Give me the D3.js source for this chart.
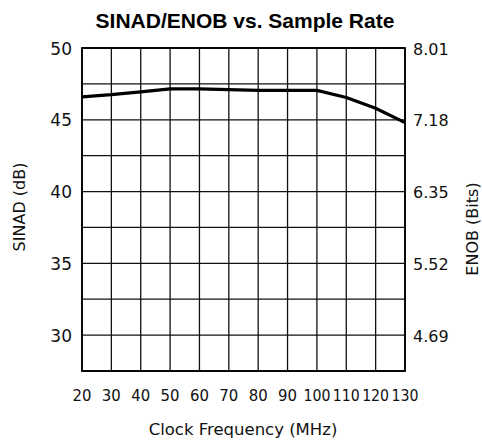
<html>
<head>
  <meta charset="utf-8" />
  <style>
    body { margin: 0; background: white; }
    svg { display: block; }
    text { font-family: "DejaVu Sans", sans-serif; fill: #111; }
  </style>
</head>
<body>
<svg width="482" height="441"></svg>
<script src="https://d3js.org/d3.v7.min.js"></script>
<script>
  // values
  var freq = [20, 30, 40, 50, 60, 70, 80, 90, 100, 110, 120, 130];
  var sinad = [46.6, 46.75, 46.95, 47.15, 47.15, 47.1, 47.05, 47.05, 47.05, 46.55, 45.8, 44.8];
  var xTicks = [20, 30, 40, 50, 60, 70, 80, 90, 100, 110, 120, 130];
  var yTicks = [30, 35, 40, 45, 50];
  var enobLabels = ["4.69", "5.52", "6.35", "7.18", "8.01"];
  var yGrid = [27.5, 30, 32.5, 35, 37.5, 40, 42.5, 45, 47.5, 50];

  var svg = d3.select("svg");
  var pLeft = 82, pRight = 405, pTop = 48, pBottom = 371;

  var x = d3.scaleLinear().domain([20, 130]).range([pLeft, pRight]);
  var y = d3.scaleLinear().domain([27.5, 50]).range([pBottom, pTop]);

  svg.append("text")
    .attr("x", 245).attr("y", 28)
    .attr("text-anchor", "middle")
    .style("font-family", "'Liberation Sans', Arial, sans-serif")
    .style("font-weight", "bold")
    .style("font-size", "21px")
    .style("fill", "#000")
    .text("SINAD/ENOB vs. Sample Rate");

  var grid = svg.append("g").attr("stroke", "#111").attr("stroke-width", 1.3);
  grid.selectAll("line.v").data(xTicks).enter().append("line")
    .attr("x1", function (d) { return x(d) }).attr("x2", function (d) { return x(d) })
    .attr("y1", pTop).attr("y2", pBottom);
  grid.selectAll("line.h").data(yGrid).enter().append("line")
    .attr("x1", pLeft).attr("x2", pRight)
    .attr("y1", function (d) { return y(d) }).attr("y2", function (d) { return y(d) });

  svg.append("rect")
    .attr("x", pLeft).attr("y", pTop)
    .attr("width", pRight - pLeft).attr("height", pBottom - pTop)
    .attr("fill", "none").attr("stroke", "#000").attr("stroke-width", 1.8);

  var line = d3.line()
    .x(function (d, i) { return x(freq[i]) })
    .y(function (d) { return y(d) });

  svg.append("path")
    .datum(sinad)
    .attr("d", line)
    .attr("fill", "none")
    .attr("stroke", "#000")
    .attr("stroke-width", 3.2)
    .attr("stroke-linejoin", "round");

  svg.selectAll("text.yl").data(yTicks).enter().append("text")
    .attr("x", pLeft - 10).attr("y", function (d) { return y(d) + 6.5 })
    .attr("text-anchor", "end")
    .style("font-size", "17px")
    .text(function (d) { return d });

  svg.selectAll("text.yr").data(yTicks).enter().append("text")
    .attr("x", pRight + 8).attr("y", function (d) { return y(d) + 6.5 })
    .style("font-size", "16px")
    .text(function (d, i) { return enobLabels[i] });

  svg.selectAll("text.xl").data(xTicks).enter().append("text")
    .attr("x", function (d) { return x(d) }).attr("y", 401)
    .attr("text-anchor", "middle")
    .attr("textLength", function (d) { return d >= 100 ? 27 : 19 })
    .attr("lengthAdjust", "spacingAndGlyphs")
    .style("font-size", "15.5px")
    .text(function (d) { return d });

  svg.append("text")
    .attr("x", 243).attr("y", 435)
    .attr("text-anchor", "middle")
    .style("font-size", "16.5px")
    .text("Clock Frequency (MHz)");

  svg.append("text")
    .attr("transform", "translate(25,207) rotate(-90)")
    .attr("text-anchor", "middle")
    .style("font-size", "16px")
    .text("SINAD (dB)");

  svg.append("text")
    .attr("transform", "translate(478,229) rotate(-90)")
    .attr("text-anchor", "middle")
    .style("font-size", "16px")
    .text("ENOB (Bits)");
</script>
</body>
</html>
